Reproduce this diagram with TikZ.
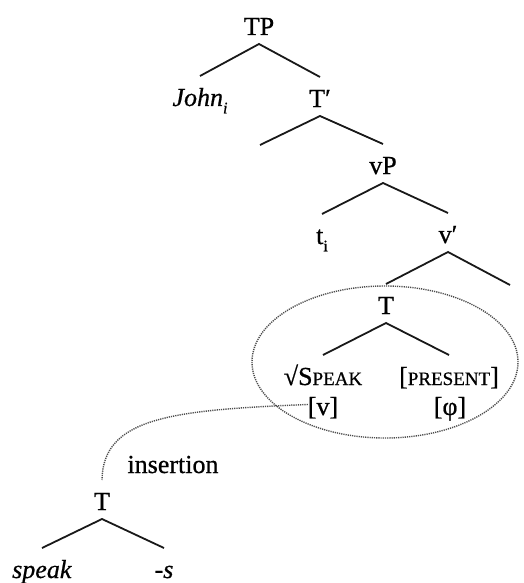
\documentclass[tikz,border=0pt]{standalone}
\usepackage{fontspec}
\setmainfont{Liberation Serif}[FakeBold=0.7]
\usetikzlibrary{shapes.geometric}
\newcommand{\smc}[1]{{\fontsize{19}{22}\selectfont #1}}
\newcommand{\subidx}[1]{\raisebox{-0.28em}{\fontsize{16}{18}\selectfont #1}}
\begin{document}
\begin{tikzpicture}[x=1pt,y=-1pt,
  lab/.style={anchor=base, inner sep=0pt, outer sep=0pt, text height=30pt, text depth=9pt, font=\fontsize{26}{30}\selectfont},
  edge/.style={line width=1.8pt, black!90},
  dots/.style={line width=1.4pt, dash pattern=on 1.2pt off 1.0pt, black!70}]
\useasboundingbox (0,0) rectangle (523,583);
% tree nodes
\node[lab] (TP) at (259,35) {TP};
\node[lab] (John) at (200,106) {\textit{John}\subidx{\textit{i}}};
\node[lab] (Tbar) at (320,107) {T′};
\coordinate (TbarL) at (260,145);
\node[lab] (vP) at (383,174) {vP};
\node[lab] (ti) at (322,244) {t\subidx{i}};
\node[lab] (vbar) at (448,243) {v′};
\coordinate (vbarR) at (510,285);
\node[lab] (T) at (386,314) {T};
\node[lab] (root) at (323,385) {√S\smc{PEAK}};
\node[lab] (pres) at (449,385) {[\smc{PRESENT}]};
\node[lab] (vf) at (323,415) {[v]};
\node[lab] (phi) at (450,415) {[φ]};
\node[ellipse, draw, dots, minimum width=266pt, minimum height=152pt, inner sep=0pt] (ell) at (385,362) {};
\node[lab] (ins) at (173,473) {insertion};
\node[lab] (lowT) at (102,510) {T};
\node[lab] (speak) at (42,578) {\textit{speak}};
\node[lab] (sfx) at (164,578) {\textit{-s}};
% branches
\draw[edge] (John.north) -- (TP.south) -- (Tbar.north);
\draw[edge] (TbarL) -- (Tbar.south) -- (vP.north);
\draw[edge] (ti.north) -- (vP.south) -- (vbar.north);
\draw[edge] (T.north) -- (vbar.south) -- (vbarR);
\draw[edge] (root.north) -- (T.south) -- (pres.north);
\draw[edge] (speak.north) -- (lowT.south) -- (sfx.north);
% insertion link
\draw[dots] (vf.west) .. controls (170,410) and (103,418) .. (lowT.north);
\end{tikzpicture}
\end{document}
